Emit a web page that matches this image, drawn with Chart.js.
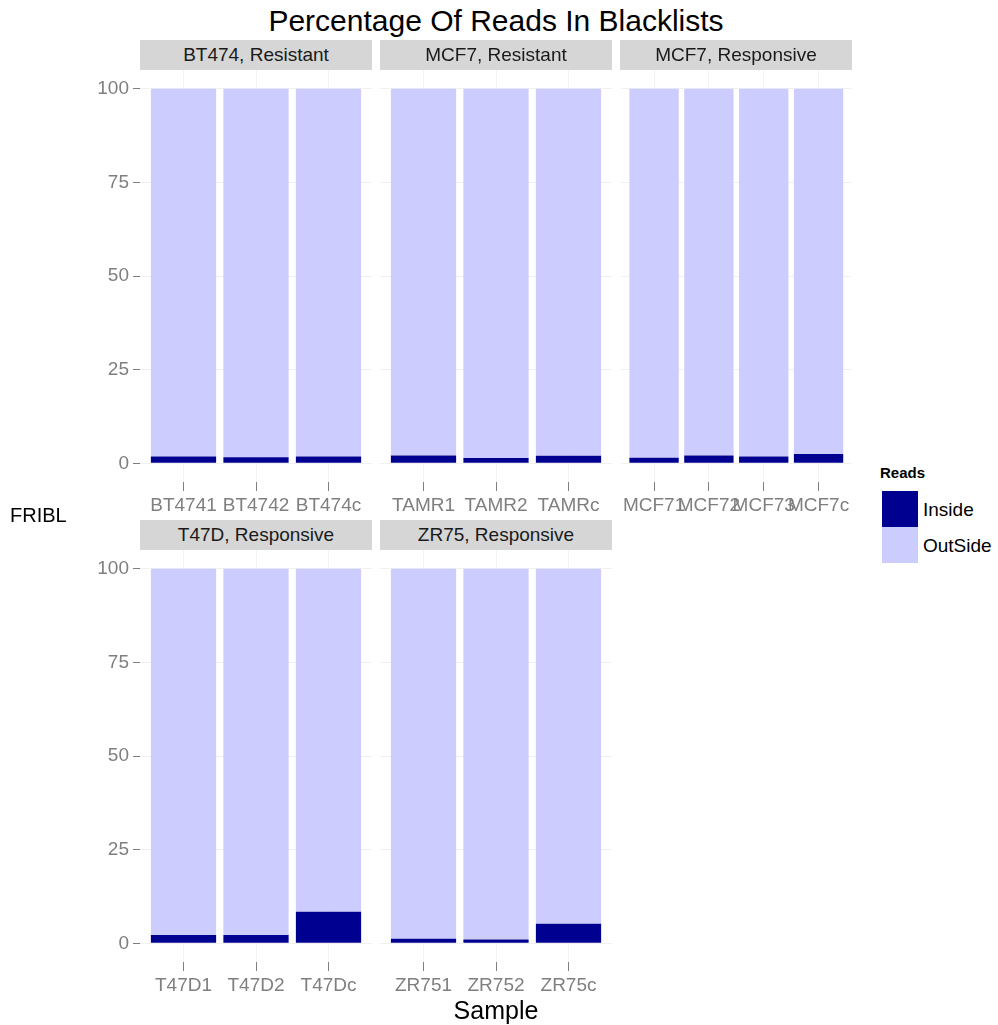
<!DOCTYPE html>
<html>
<head>
<meta charset="utf-8">
<title>Percentage Of Reads In Blacklists</title>
<script src="https://cdn.jsdelivr.net/npm/chart.js@4.4.1/dist/chart.umd.min.js"></script>
<style>
    body { margin: 0; background: #ffffff; font-family: "Liberation Sans", Arial, sans-serif; }
    #page { position: relative; width: 998px; height: 1025px; overflow: hidden; }
    .abs { position: absolute; }
    .strip {
        position: absolute; width: 232px; height: 30px; background: #d6d6d6;
        color: #1a1a1a; font-size: 19px; line-height: 30px; text-align: center; z-index: 2;
    }
    .panel { position: absolute; }
    .key { position: absolute; left: 882px; width: 36px; height: 36px; }
    .keylab { position: absolute; left: 923px; font-size: 19px; color: #000; line-height: 20px; }
</style>
</head>
<body>
<div id="page">
    <div class="abs" style="left:0;width:992px;top:4px;text-align:center;font-size:30px;color:#000;">Percentage Of Reads In Blacklists</div>

    <div class="strip" style="left:140px;top:40px;">BT474, Resistant</div>
    <div class="strip" style="left:380px;top:40px;">MCF7, Resistant</div>
    <div class="strip" style="left:620px;top:40px;">MCF7, Responsive</div>
    <div class="strip" style="left:140px;top:520px;">T47D, Responsive</div>
    <div class="strip" style="left:380px;top:520px;">ZR75, Responsive</div>

    <div class="panel" style="left:60px;top:50px;width:312px;height:476px;"><canvas id="p1"></canvas></div>
    <div class="panel" style="left:380px;top:50px;width:232px;height:476px;"><canvas id="p2"></canvas></div>
    <div class="panel" style="left:620px;top:50px;width:232px;height:476px;"><canvas id="p3"></canvas></div>
    <div class="panel" style="left:60px;top:530px;width:312px;height:476px;"><canvas id="p4"></canvas></div>
    <div class="panel" style="left:380px;top:530px;width:232px;height:476px;"><canvas id="p5"></canvas></div>

    <div class="abs" style="left:10px;top:504px;font-size:20px;color:#000;">FRIBL</div>
    <div class="abs" style="left:0;width:992px;top:996px;text-align:center;font-size:25px;color:#000;">Sample</div>

    <div class="abs" style="left:880px;top:464px;font-size:15px;font-weight:bold;color:#000;">Reads</div>
    <div class="key" style="top:491px;background:#000090;"></div>
    <div class="key" style="top:527px;background:#ccccff;"></div>
    <div class="keylab" style="top:500px;">Inside</div>
    <div class="keylab" style="top:536px;">OutSide</div>
</div>

<script>
// ---- data (percent of reads) ----
const yTicks = [0, 25, 50, 75, 100];

const bt474Samples = ['BT4741', 'BT4742', 'BT474c'];
const bt474Inside  = [1.8, 1.6, 1.8];
const bt474Out     = [98.2, 98.4, 98.2];

const tamrSamples = ['TAMR1', 'TAMR2', 'TAMRc'];
const tamrInside  = [2.1, 1.4, 2.0];
const tamrOut     = [97.9, 98.6, 98.0];

const mcf7Samples = ['MCF71', 'MCF72', 'MCF73', 'MCF7c'];
const mcf7Inside  = [1.5, 2.1, 1.8, 2.5];
const mcf7Out     = [98.5, 97.9, 98.2, 97.5];

const t47dSamples = ['T47D1', 'T47D2', 'T47Dc'];
const t47dInside  = [2.2, 2.2, 8.4];
const t47dOut     = [97.8, 97.8, 91.6];

const zr75Samples = ['ZR751', 'ZR752', 'ZR75c'];
const zr75Inside  = [1.2, 1.0, 5.2];
const zr75Out     = [98.8, 99.0, 94.8];

const FONT = '"Liberation Sans", Arial, sans-serif';
const GREY = '#7f7f7f';

// one facet panel: stacked Inside / OutSide bars
function createPanel(canvasId, samples, inside, outside, showY) {
    const ctx = document.getElementById(canvasId);
    if (!ctx) return null;

    const toPoints = vals => vals.map((v, i) => ({ x: i + 1, y: v }));

    return new Chart(ctx, {
        type: 'bar',
        data: {
            datasets: [{
                label: 'Inside',
                data: toPoints(inside),
                backgroundColor: '#000090',
                borderWidth: 0,
                categoryPercentage: 1,
                barPercentage: 0.9
            }, {
                label: 'OutSide',
                data: toPoints(outside),
                backgroundColor: '#ccccff',
                borderWidth: 0,
                categoryPercentage: 1,
                barPercentage: 0.9
            }]
        },
        options: {
            responsive: true,
            maintainAspectRatio: false,
            animation: false,
            layout: { padding: { top: 20, left: 0, right: 0, bottom: 0 } },
            scales: {
                x: {
                    type: 'linear',
                    stacked: true,
                    offset: false,
                    min: 0.4,
                    max: samples.length + 0.6,
                    afterBuildTicks: s => { s.ticks = samples.map((_, i) => ({ value: i + 1 })); },
                    afterFit: s => { s.height = 44; },
                    grid: { offset: false, color: '#f3f3f3', tickColor: GREY, tickLength: 9 },
                    border: { display: false },
                    ticks: {
                        autoSkip: false, maxRotation: 0, minRotation: 0,
                        color: GREY, padding: 3,
                        font: { family: FONT, size: 19 },
                        callback: v => samples[v - 1]
                    }
                },
                y: {
                    stacked: true,
                    min: -5,
                    max: 105,
                    afterBuildTicks: s => { s.ticks = yTicks.map(v => ({ value: v })); },
                    afterFit: s => { s.width = showY ? 80 : 0; },
                    grid: { color: '#f0f0f0', tickColor: GREY, tickLength: 7, drawTicks: showY },
                    border: { display: false },
                    ticks: {
                        display: showY, color: GREY, padding: 4,
                        font: { family: FONT, size: 19 }
                    }
                }
            },
            plugins: {
                legend: { display: false },
                title: { display: false }
            }
        }
    });
}

createPanel('p1', bt474Samples, bt474Inside, bt474Out, true);
createPanel('p2', tamrSamples, tamrInside, tamrOut, false);
createPanel('p3', mcf7Samples, mcf7Inside, mcf7Out, false);
createPanel('p4', t47dSamples, t47dInside, t47dOut, true);
createPanel('p5', zr75Samples, zr75Inside, zr75Out, false);
</script>
</body>
</html>
